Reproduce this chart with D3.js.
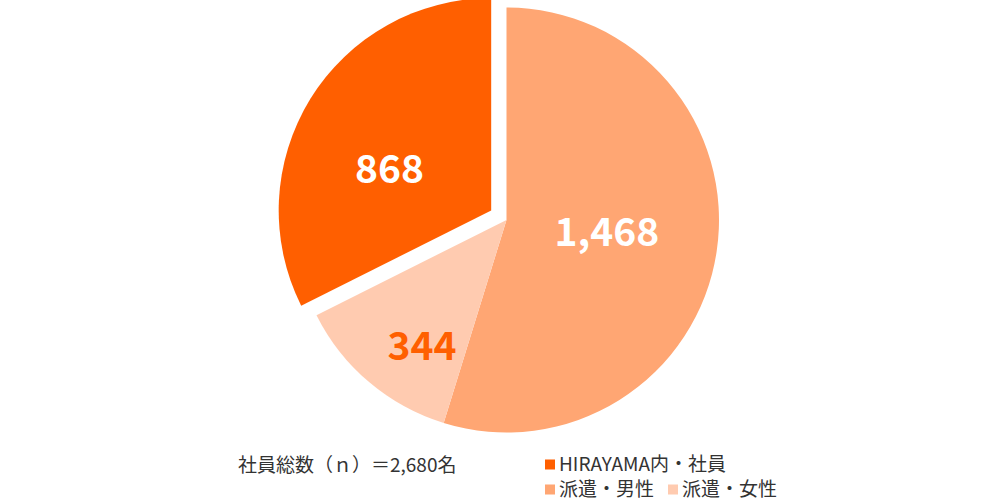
<!DOCTYPE html>
<meta charset="utf-8">
<script src="https://d3js.org/d3.v7.min.js"></script>
<style>
  body { margin: 0; background: #fff; font-family: "Noto Sans CJK JP", "Noto Sans", sans-serif; }
  .note, .legend text { font-size: 19px; fill: #333; }
  .val { font-size: 39px; font-weight: 700; }
</style>
<div id="chart"></div>
<script>
// data
var categories = ["HIRAYAMA内・社員", "派遣・男性", "派遣・女性"]
var values = [868, 1468, 344]
var valueLabels = ["868", "1,468", "344"]
var colors = ["#ff5f00", "#ffa673", "#ffcbb0"]
var labelColors = ["#fff", "#fff", "#ff5f00"]
var totalNote = "社員総数（ｎ）＝2,680名"

var width = 1000, height = 500
var cx = 506.5, cy = 220, radius = 212.5
var explode = 18

var svg = d3.select("#chart").append("svg")
  .attr("width", width)
  .attr("height", height)

var g = svg.append("g").attr("transform", "translate(" + cx + "," + cy + ")")

// drawing order clockwise from 12 o'clock: 1468, 344, then 868
var order = [1, 2, 0]
var pie = d3.pie().sort(null).value(function(i) { return values[i] })
var arcs = pie(order)

var arc = d3.arc().innerRadius(0).outerRadius(radius)
// where the label sits: radius and fraction across the slice
var labelPlace = { 0: [110, 0.42], 1: [101, 0.49], 2: [152, 0.36] }

arcs.forEach(function(a) {
  var i = a.data
  var mid = (a.startAngle + a.endAngle) / 2
  var off = i === 0 ? explode : 0
  var dx = Math.sin(mid) * off, dy = -Math.cos(mid) * off
  var sg = g.append("g").attr("transform", "translate(" + dx + "," + dy + ")")
  sg.append("path")
    .attr("d", arc(a))
    .attr("fill", colors[i])
  var lp = labelPlace[i]
  var ang = a.startAngle + (a.endAngle - a.startAngle) * lp[1]
  sg.append("text")
    .attr("class", "val")
    .attr("x", Math.sin(ang) * lp[0])
    .attr("y", -Math.cos(ang) * lp[0])
    .attr("dy", "0.36em")
    .attr("text-anchor", "middle")
    .attr("fill", labelColors[i])
    .text(valueLabels[i])
})

svg.append("text")
  .attr("class", "note")
  .attr("x", 238)
  .attr("y", 471.5)
  .text(totalNote)

// legend: first item on its own row, the other two side by side
var legendPos = [[545, 464.5], [545, 489.5], [668, 489.5]]
var legend = svg.append("g").attr("class", "legend")
categories.forEach(function(name, i) {
  var p = legendPos[i]
  legend.append("rect")
    .attr("x", p[0])
    .attr("y", p[1] - 5)
    .attr("width", 10)
    .attr("height", 10)
    .attr("fill", colors[i])
  legend.append("text")
    .attr("x", p[0] + 14)
    .attr("y", p[1] + 6.5)
    .text(name)
})
</script>
